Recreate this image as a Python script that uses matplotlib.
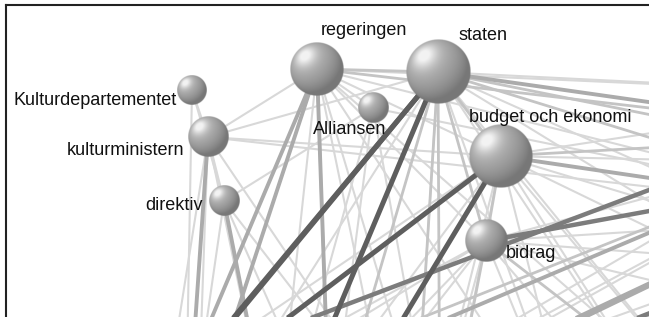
import numpy as np
import matplotlib.pyplot as plt

plt.rcParams['font.family'] = ['Liberation Sans', 'DejaVu Sans']

# visible terms and their sphere size (radius, px)
terms = ['Kulturdepartementet', 'kulturministern', 'direktiv', 'regeringen',
         'Alliansen', 'staten', 'budget och ekonomi', 'bidrag']
term_size = [15, 20.5, 15.5, 27, 15.5, 32.5, 32, 21.5]

# nodes outside the cropped view (only their edges show)
hidden = ['h1', 'h2', 'h3', 'h4', 'h5', 'h6', 'h7', 'h8', 'h9', 'h10',
          'h11', 'h12', 'h13', 'h14', 'h15', 'h16', 'h17']

# co-occurrence edges: (a, b, strength 1..5)
edges = [
    ('Kulturdepartementet', 'kulturministern', 1),
    ('Kulturdepartementet', 'direktiv', 1),
    ('Kulturdepartementet', 'h2', 1),
    ('kulturministern', 'direktiv', 1),
    ('kulturministern', 'regeringen', 1),
    ('kulturministern', 'staten', 1),
    ('kulturministern', 'budget och ekonomi', 1),
    ('kulturministern', 'h8', 1),
    ('kulturministern', 'h2', 3),
    ('kulturministern', 'h16', 1),
    ('kulturministern', 'h3', 1),
    ('kulturministern', 'h5', 1),
    ('kulturministern', 'h14', 1),
    ('direktiv', 'Alliansen', 1),
    ('direktiv', 'h3', 3),
    ('direktiv', 'h5', 1),
    ('direktiv', 'h4', 1),
    ('direktiv', 'h2', 1),
    ('regeringen', 'staten', 2),
    ('regeringen', 'Alliansen', 1),
    ('regeringen', 'h4', 3),
    ('regeringen', 'h4', 2),
    ('regeringen', 'h2', 3),
    ('regeringen', 'h16', 3),
    ('regeringen', 'h5', 1),
    ('regeringen', 'h15', 1),
    ('regeringen', 'h6', 1),
    ('regeringen', 'h7', 1),
    ('regeringen', 'h9', 2),
    ('regeringen', 'h13', 1),
    ('regeringen', 'h8', 1),
    ('regeringen', 'budget och ekonomi', 1),
    ('regeringen', 'bidrag', 1),
    ('regeringen', 'h3', 1),
    ('Alliansen', 'h5', 1),
    ('Alliansen', 'h4', 1),
    ('Alliansen', 'h8', 1),
    ('Alliansen', 'h3', 1),
    ('staten', 'h1', 5),
    ('staten', 'h14', 5),
    ('staten', 'h3', 5),
    ('staten', 'h5', 2),
    ('staten', 'h15', 2),
    ('staten', 'h15', 1),
    ('staten', 'h6', 1),
    ('staten', 'h7', 1),
    ('staten', 'h10', 1),
    ('staten', 'h8', 2),
    ('staten', 'h9', 3),
    ('staten', 'h13', 1),
    ('staten', 'h12', 2),
    ('staten', 'h17', 1),
    ('staten', 'budget och ekonomi', 2),
    ('staten', 'bidrag', 2),
    ('staten', 'h4', 2),
    ('staten', 'h2', 1),
    ('staten', 'h11', 1),
    ('budget och ekonomi', 'h1', 5),
    ('budget och ekonomi', 'h4', 5),
    ('budget och ekonomi', 'h8', 3),
    ('budget och ekonomi', 'h9', 2),
    ('budget och ekonomi', 'h12', 1),
    ('budget och ekonomi', 'h13', 1),
    ('budget och ekonomi', 'h10', 1),
    ('budget och ekonomi', 'h7', 1),
    ('budget och ekonomi', 'h6', 1),
    ('budget och ekonomi', 'h5', 1),
    ('budget och ekonomi', 'h15', 1),
    ('budget och ekonomi', 'h17', 1),
    ('budget och ekonomi', 'bidrag', 2),
    ('budget och ekonomi', 'h11', 1),
    ('budget och ekonomi', 'h3', 1),
    ('budget och ekonomi', 'h14', 1),
    ('bidrag', 'h12', 4),
    ('bidrag', 'h7', 2),
    ('bidrag', 'h6', 1),
    ('bidrag', 'h5', 2),
    ('bidrag', 'h15', 1),
    ('bidrag', 'h1', 1),
    ('bidrag', 'h4', 1),
    ('bidrag', 'h3', 1),
    ('bidrag', 'h8', 1),
    ('bidrag', 'h9', 1),
    ('bidrag', 'h11', 1),
    ('bidrag', 'h10', 1),
    ('bidrag', 'h17', 1),
    ('bidrag', 'h16', 1),
    ('h13', 'h14', 4),
    ('h8', 'h3', 4),
    ('h9', 'h1', 2),
    ('h12', 'h4', 3),
    ('h10', 'h3', 2),
    ('h8', 'h2', 1),
    ('h9', 'h4', 1),
    ('h10', 'h1', 4),
    ('h7', 'h2', 1),
    ('h11', 'h3', 2),
    ('h12', 'h5', 1),
    ('h8', 'h4', 3),
    ('h10', 'h4', 2),
    ('h12', 'h3', 3),
    ('h7', 'h14', 2),
    ('h9', 'h16', 3),
    ('h13', 'h3', 1),
    ('h8', 'h15', 1),
    ('h9', 'h5', 1),
    ('h7', 'h4', 1),
    ('h10', 'h5', 1),
    ('h13', 'h11', 1),
    ('h12', 'h6', 1),
    ('h9', 'h7', 1),
    ('h8', 'h6', 2),
    ('h17', 'h3', 2),
    ('h17', 'h5', 1),
    ('h17', 'h1', 1),
    ('h12', 'h15', 1),
    ('h13', 'h6', 1),
    ('h10', 'h15', 2),
    ('h9', 'h3', 1),
    ('h8', 'h5', 1),
]

# layout of the network (pixel space of the crop, y down)
layout = {
    'Kulturdepartementet': (192, 90), 'kulturministern': (208, 137),
    'direktiv': (224, 201), 'regeringen': (317, 69), 'Alliansen': (373, 108),
    'staten': (438, 72), 'budget och ekonomi': (501, 156), 'bidrag': (486, 241),
    'h1': (140, 430), 'h2': (185, 470), 'h3': (275, 460), 'h4': (330, 440),
    'h5': (440, 480), 'h6': (580, 470), 'h7': (730, 430), 'h8': (900, 215),
    'h9': (880, 135), 'h10': (860, 330), 'h11': (760, 560), 'h12': (900, 165),
    'h13': (900, 95), 'h14': (200, 360), 'h15': (410, 520), 'h16': (160, 440),
    'h17': (880, 270),
}
label_pos = {
    'Kulturdepartementet': (177, 105, 'right'), 'kulturministern': (184, 155, 'right'),
    'direktiv': (203, 210, 'right'), 'regeringen': (364, 35, 'center'),
    'Alliansen': (350, 134, 'center'), 'staten': (483, 39.5, 'center'),
    'budget och ekonomi': (550, 122, 'center'), 'bidrag': (506, 258, 'left'),
}
edge_color = {1: '#d8d8d8', 2: '#c4c4c4', 3: '#ababab', 4: '#7c7c7c', 5: '#5e5e5e'}
edge_width = {1: 1.5, 2: 2.0, 3: 2.8, 4: 3.2, 5: 3.6}


def sphere(n=160):
    u, v = np.meshgrid(np.linspace(-1, 1, n), np.linspace(-1, 1, n))
    rr = np.sqrt(u ** 2 + v ** 2)
    z = np.sqrt(np.clip(1 - rr ** 2, 0, 1))
    light = np.array([-0.45, -0.5, 0.74])
    light = light / np.linalg.norm(light)
    diff = np.clip(u * light[0] + v * light[1] + z * light[2], 0, 1)
    spec = diff ** 12
    shade = np.clip(0.47 + 0.25 * diff + 0.28 * spec, 0, 0.95)
    img = np.zeros((n, n, 4))
    img[..., 0] = img[..., 1] = img[..., 2] = shade
    img[..., 3] = np.clip((1 - rr) * n / 2.5, 0, 1)
    return img


fig = plt.figure(figsize=(6.49, 3.17), dpi=100)
ax = fig.add_axes([6 / 649, 0, 643 / 649, 312 / 317])

for a, b, w in sorted(edges, key=lambda e: e[2]):
    (x1, y1), (x2, y2) = layout[a], layout[b]
    ax.plot([x1, x2], [y1, y2], color=edge_color[w], lw=edge_width[w],
            solid_capstyle='butt', zorder=1 + w * 0.1)

ball = sphere()
for name, r in zip(terms, term_size):
    x, y = layout[name]
    ax.imshow(ball, extent=(x - r, x + r, y + r, y - r), interpolation='bilinear',
              aspect='auto', zorder=5)
    lx, ly, ha = label_pos[name]
    ax.text(lx, ly, name, fontsize=13, ha=ha, va='baseline', color='#111111', zorder=6)

ax.set_xlim(6, 649)
ax.set_ylim(317, 5)
ax.set_xticks([])
ax.set_yticks([])
for side in ['right', 'bottom']:
    ax.spines[side].set_visible(False)
for side in ['left', 'top']:
    ax.spines[side].set_linewidth(1.5)
    ax.spines[side].set_color('#222222')

fig.savefig('out.png', dpi=100)
